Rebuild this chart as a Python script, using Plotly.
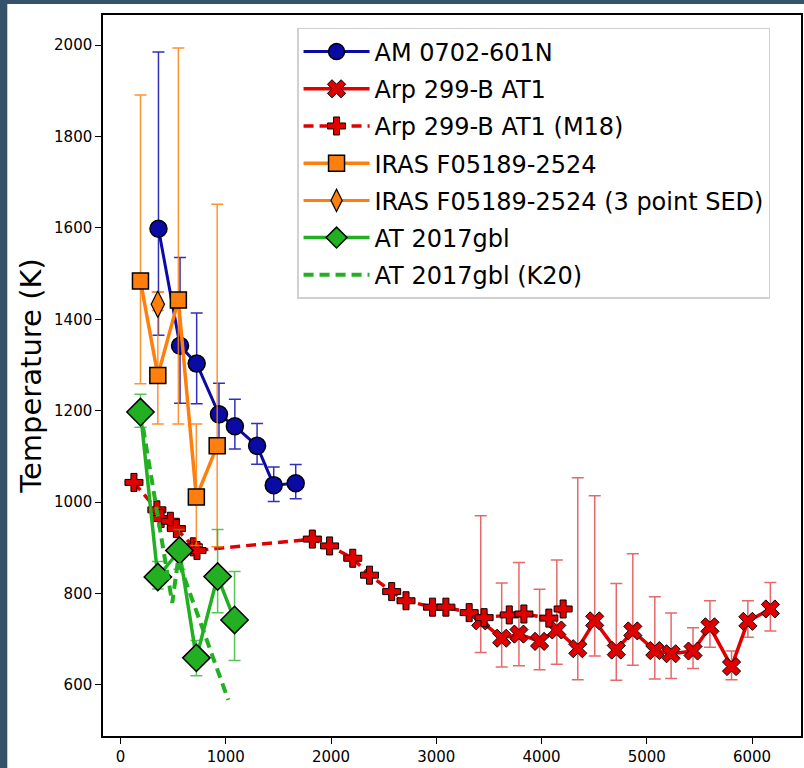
import plotly.graph_objects as go

# ---------------- data ----------------
am_x = [360, 565, 723, 935, 1086, 1297, 1455, 1664]
am_T = [1598, 1342, 1303, 1192, 1166, 1123, 1037, 1041]
am_hi = [1985, 1535, 1414, 1260, 1225, 1172, 1077, 1082]
am_lo = [1365, 1216, 1215, 1135, 1116, 1083, 1001, 1007]

arp_x = [3422, 3621, 3785, 3981, 4145, 4344, 4505, 4710, 4867, 5076, 5231, 5439, 5600, 5805, 5960, 6174]
arp_T = [740, 702, 711, 695, 720, 679, 740, 676, 718, 675, 668, 674, 727, 640, 739, 766]
arp_hi = [970, 823, 868, 809, 873, 1053, 1014, 822, 887, 793, 757, 725, 784, 674, 784, 824]
arp_lo = [671, 639, 642, 633, 645, 611, 663, 610, 643, 613, 614, 636, 682, 611, 704, 718]

m18_x = [127, 345, 385, 473, 530, 691, 726, 1822, 1986, 2206, 2365, 2576, 2712, 2964, 3091, 3312, 3454, 3693, 3832, 4069, 4205]
m18_T = [1043, 983, 964, 958, 942, 902, 894, 919, 904, 877, 840, 804, 784, 770, 770, 758, 747, 753, 755, 746, 766]

iras_x = [189, 354, 549, 720, 918]
iras_T = [1484, 1277, 1442, 1011, 1123]
iras_hi = [1891, 1460, 1994, 1171, 1652]
iras_lo = [1259, 1171, 1171, 905, 902]

iras3_x = [354]
iras3_T = [1433]
iras3_hi = [1460]
iras3_lo = [1419]

gbl_x = [189, 354, 559, 720, 922, 1083]
gbl_T = [1197, 836, 894, 659, 837, 742]
gbl_hi = [1236, 870, 940, 697, 940, 848]
gbl_lo = [1164, 810, 853, 620, 758, 653]

k20_x = [189, 491, 546, 1023]
k20_T = [1197, 779, 873, 567]

x_ticks = [0, 1000, 2000, 3000, 4000, 5000, 6000]
y_ticks = [600, 800, 1000, 1200, 1400, 1600, 1800, 2000]

# ---------------- colours ----------------
BLUE = "#0a0aa5"
RED = "#e00000"
ORANGE = "#ff7f0e"
GREEN = "#22b022"


def err(T, hi, lo, color):
    return dict(type="data", symmetric=False,
                array=[h - t for h, t in zip(hi, T)],
                arrayminus=[t - l for t, l in zip(T, lo)],
                color=color, thickness=1.5, width=6)


fig = go.Figure()

fig.add_trace(go.Scatter(
    x=am_x, y=am_T, name="AM 0702-601N", mode="lines+markers",
    line=dict(color=BLUE, width=3),
    marker=dict(symbol="circle", size=17, color=BLUE, line=dict(color="black", width=1.5)),
    error_y=err(am_T, am_hi, am_lo, "rgba(25,25,180,0.9)"), legendgroup="a"))

fig.add_trace(go.Scatter(
    x=arp_x, y=arp_T, name="Arp 299-B AT1", mode="lines+markers",
    line=dict(color=RED, width=3.5),
    marker=dict(symbol="x", size=16, color=RED, line=dict(color="black", width=1)),
    error_y=err(arp_T, arp_hi, arp_lo, "rgba(220,40,40,0.7)"), legendgroup="b"))

fig.add_trace(go.Scatter(
    x=m18_x, y=m18_T, name="Arp 299-B AT1 (M18)", mode="lines+markers",
    line=dict(color=RED, width=3.5, dash="10px,6px"),
    marker=dict(symbol="cross", size=15, color=RED, line=dict(color="black", width=1)),
    legendgroup="c"))

fig.add_trace(go.Scatter(
    x=iras_x, y=iras_T, name="IRAS F05189-2524", mode="lines+markers",
    line=dict(color=ORANGE, width=3.5),
    marker=dict(symbol="square", size=16, color=ORANGE, line=dict(color="black", width=1.5)),
    error_y=err(iras_T, iras_hi, iras_lo, "rgba(255,127,14,0.85)"), legendgroup="d"))

fig.add_trace(go.Scatter(
    x=iras3_x, y=iras3_T, name="IRAS F05189-2524 (3 point SED)", mode="lines+markers",
    line=dict(color=ORANGE, width=3),
    marker=dict(symbol="diamond-tall", size=19, color=ORANGE, line=dict(color="black", width=1.2)),
    error_y=err(iras3_T, iras3_hi, iras3_lo, "rgba(255,127,14,0.85)"), legendgroup="e"))

fig.add_trace(go.Scatter(
    x=gbl_x, y=gbl_T, name="AT 2017gbl", mode="lines+markers",
    line=dict(color=GREEN, width=3.5),
    marker=dict(symbol="diamond", size=21, color=GREEN, line=dict(color="black", width=1.5)),
    error_y=err(gbl_T, gbl_hi, gbl_lo, "rgba(34,176,34,0.75)"), legendgroup="f"))

fig.add_trace(go.Scatter(
    x=k20_x, y=k20_T, name="AT 2017gbl (K20)", mode="lines",
    line=dict(color=GREEN, width=4, dash="10px,6px"), legendgroup="g"))

# dark window border strips (left and top)
BORDER = "#35526b"
shapes = [
    dict(type="rect", xref="paper", yref="paper", x0=-0.16, x1=-0.1371, y0=-0.1, y1=1.1,
         fillcolor=BORDER, line=dict(width=0), layer="above"),
    dict(type="rect", xref="paper", yref="paper", x0=-0.16, x1=1.01, y0=1.0153, y1=1.1,
         fillcolor=BORDER, line=dict(width=0), layer="above"),
]

fig.update_layout(
    width=804, height=768,
    margin=dict(l=103, r=1, t=15, b=32),
    paper_bgcolor="white", plot_bgcolor="white",
    font=dict(family="DejaVu Sans", color="black"),
    showlegend=True,
    legend=dict(x=0.278, y=0.982, xanchor="left", yanchor="top",
                bgcolor="white", bordercolor="#d0d0d0", borderwidth=1.5,
                font=dict(size=24, family="DejaVu Sans"), tracegroupgap=3,
                itemwidth=66),
    shapes=shapes,
    xaxis=dict(range=[-167, 6465], tickvals=x_ticks, ticktext=[str(v) for v in x_ticks],
               showgrid=False, zeroline=False, showline=True, mirror=True,
               linecolor="black", linewidth=1.5, ticks="outside", ticklen=6,
               tickcolor="black", tickfont=dict(size=15)),
    yaxis=dict(range=[488, 2066], tickvals=y_ticks, ticktext=[str(v) for v in y_ticks],
               showgrid=False, zeroline=False, showline=True, mirror=True,
               linecolor="black", linewidth=1.5, ticks="outside", ticklen=6,
               tickcolor="black", tickfont=dict(size=15),
               title=dict(text="Temperature (K)", font=dict(size=29), standoff=4)),
)

fig.write_html("out.html")
